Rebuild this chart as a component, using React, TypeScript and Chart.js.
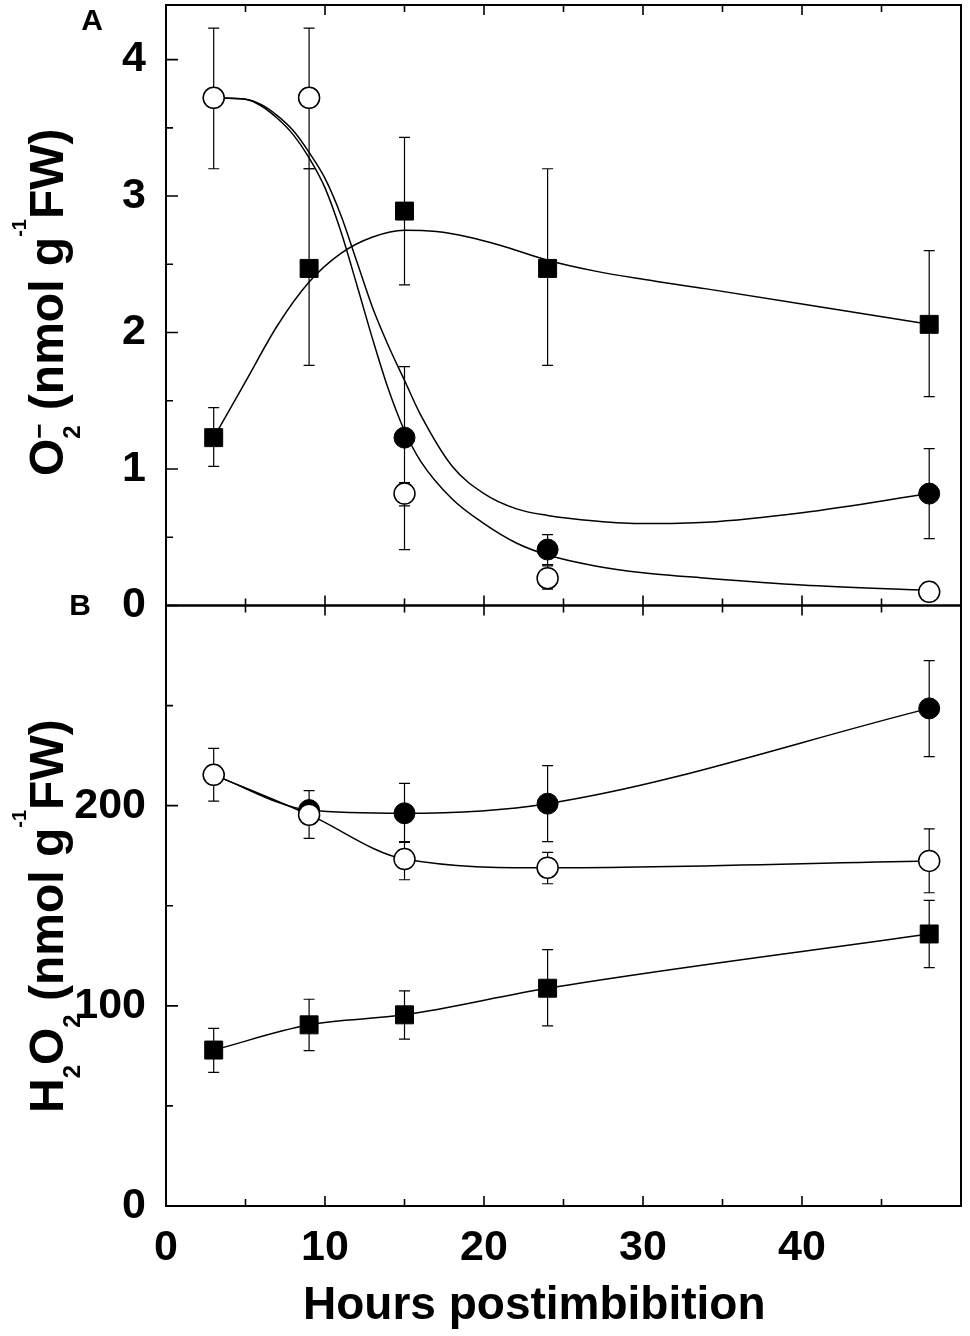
import React, { useEffect, useRef } from 'react';
import { Chart, registerables } from 'chart.js';

Chart.register(...registerables);

const hours = [3, 9, 15, 24, 48];

// panel A, O2- (nmol g-1 FW)
const o2Square = [1.23, 2.47, 2.89, 2.47, 2.06];
const o2SquareHi = [1.45, 3.2, 3.43, 3.2, 2.6];
const o2SquareLo = [1.02, 1.76, 2.35, 1.76, 1.53];
const o2Filled = [3.72, 3.72, 1.23, 0.41, 0.82];
const o2FilledHi = [3.72, 3.72, 1.75, 0.52, 1.15];
const o2FilledLo = [3.72, 3.72, 0.41, 0.3, 0.49];
const o2Open = [3.72, 3.72, 0.82, 0.2, 0.1];
const o2OpenHi = [4.23, 4.23, 0.9, 0.29, 0.12];
const o2OpenLo = [3.2, 3.2, 0.73, 0.12, 0.08];

// fitted curves of panel A
const sigmoidHours = [3, 5, 6, 7, 8, 9, 10, 11, 12, 13, 14, 15, 16, 18, 20, 22, 24, 27, 30, 34, 40, 48];
const o2OpenFit = [3.72, 3.71, 3.66, 3.57, 3.45, 3.28, 3.06, 2.74, 2.35, 1.95, 1.58, 1.28, 1.06, 0.78, 0.6, 0.46, 0.37, 0.29, 0.24, 0.2, 0.15, 0.11];
const o2FilledFit = [3.72, 3.71, 3.67, 3.59, 3.48, 3.32, 3.13, 2.86, 2.52, 2.18, 1.9, 1.65, 1.4, 1.02, 0.82, 0.71, 0.66, 0.62, 0.6, 0.61, 0.68, 0.82];
const peakHours = [3, 5, 7, 9, 11, 13, 15, 17, 19, 21, 24, 27, 30, 34, 40, 48];
const o2SquareFit = [1.23, 1.64, 2.05, 2.37, 2.58, 2.7, 2.75, 2.74, 2.7, 2.64, 2.53, 2.45, 2.39, 2.32, 2.21, 2.06];

// panel B, H2O2 (nmol g-1 FW)
const h2o2Square = [77.9, 90.5, 95.5, 108.8, 135.9];
const h2o2SquareHi = [88.7, 103.3, 107.5, 128.1, 152.7];
const h2o2SquareLo = [66.8, 77.6, 83.4, 90, 119.1];
const h2o2Filled = [215.4, 197.8, 196.2, 201, 248.6];
const h2o2FilledHi = [215.4, 197.8, 211.1, 220, 272.5];
const h2o2FilledLo = [215.4, 197.8, 181.7, 182, 224.5];
const h2o2Open = [215.4, 195.5, 173.3, 169, 172.4];
const h2o2OpenHi = [228.6, 207.5, 182, 176.7, 188.4];
const h2o2OpenLo = [202.3, 183.7, 163, 161, 156.5];

// axes
const hourTicks = [0, 10, 20, 30, 40];
const hourMinor = [5, 15, 25, 35, 45];
const o2Ticks = [0, 1, 2, 3, 4];
const o2Minor = [0.5, 1.5, 2.5, 3.5];
const h2o2Ticks = [0, 100, 200];
const h2o2Minor = [50, 150, 250];

const FONT = '"Liberation Sans", Arial, Helvetica, sans-serif';

const toXY = (xs: number[], ys: number[]) => xs.map((x, i) => ({ x, y: ys[i] }));

const errorSets = [
  { axis: 'yA', hi: o2SquareHi, lo: o2SquareLo },
  { axis: 'yA', hi: o2FilledHi, lo: o2FilledLo },
  { axis: 'yA', hi: o2OpenHi, lo: o2OpenLo },
  { axis: 'yB', hi: h2o2SquareHi, lo: h2o2SquareLo },
  { axis: 'yB', hi: h2o2FilledHi, lo: h2o2FilledLo },
  { axis: 'yB', hi: h2o2OpenHi, lo: h2o2OpenLo },
];

type Seg = { t: string; size: number; dy: number; stack?: boolean };

const titleA: Seg[] = [
  { t: 'O', size: 48, dy: 0 },
  { t: '2', size: 24, dy: 17 },
  { t: '\u2212', size: 26, dy: -15, stack: true },
  { t: ' (nmol g', size: 48, dy: 0 },
  { t: '-1', size: 20, dy: -37 },
  { t: 'FW)', size: 48, dy: 0 },
];

const titleB: Seg[] = [
  { t: 'H', size: 48, dy: 0 },
  { t: '2', size: 24, dy: 17 },
  { t: 'O', size: 48, dy: 0 },
  { t: '2', size: 24, dy: 17 },
  { t: ' (nmol g', size: 48, dy: 0 },
  { t: '-1', size: 20, dy: -37 },
  { t: 'FW)', size: 48, dy: 0 },
];

function drawRotated(ctx: CanvasRenderingContext2D, segs: Seg[], x: number, y: number) {
  ctx.save();
  ctx.translate(x, y);
  ctx.rotate(-Math.PI / 2);
  ctx.fillStyle = '#000';
  ctx.textAlign = 'left';
  ctx.textBaseline = 'alphabetic';
  let pos = 0;
  let lastStart = 0;
  for (const s of segs) {
    ctx.font = `bold ${s.size}px ${FONT}`;
    const start = s.stack ? lastStart : pos;
    ctx.fillText(s.t, start, s.dy);
    pos = Math.max(pos, start + ctx.measureText(s.t).width);
    lastStart = start;
  }
  ctx.restore();
}

const figurePlugin = {
  id: 'figure',
  beforeDatasetsDraw(chart: any) {
    const { ctx } = chart;
    const x = chart.scales.x;
    ctx.save();
    ctx.strokeStyle = '#000';
    ctx.lineWidth = 1.2;
    errorSets.forEach((e) => {
      const y = chart.scales[e.axis];
      hours.forEach((h, i) => {
        if (e.hi[i] === e.lo[i]) return;
        const px = x.getPixelForValue(h);
        const top = y.getPixelForValue(e.hi[i]);
        const bot = y.getPixelForValue(e.lo[i]);
        ctx.beginPath();
        ctx.moveTo(px, top);
        ctx.lineTo(px, bot);
        ctx.moveTo(px - 5.5, top);
        ctx.lineTo(px + 5.5, top);
        ctx.moveTo(px - 5.5, bot);
        ctx.lineTo(px + 5.5, bot);
        ctx.stroke();
      });
    });
    ctx.restore();
  },
  afterDraw(chart: any) {
    const { ctx, chartArea } = chart;
    const x = chart.scales.x;
    const panels = [
      { y: chart.scales.yA, major: o2Ticks, minor: o2Minor },
      { y: chart.scales.yB, major: h2o2Ticks, minor: h2o2Minor },
    ];
    ctx.save();
    ctx.strokeStyle = '#000';
    panels.forEach((p) => {
      const { top, bottom } = p.y;
      ctx.lineWidth = 1.6;
      ctx.beginPath();
      const tick = (v: number, len: number) => {
        const py = p.y.getPixelForValue(v);
        ctx.moveTo(chartArea.left, py);
        ctx.lineTo(chartArea.left + len, py);
      };
      p.major.forEach((v) => tick(v, 12));
      p.minor.forEach((v) => tick(v, 7));
      const xtick = (v: number, len: number) => {
        const px = x.getPixelForValue(v);
        ctx.moveTo(px, top);
        ctx.lineTo(px, top + len);
        ctx.moveTo(px, bottom);
        ctx.lineTo(px, bottom - len);
      };
      hourTicks.forEach((v) => xtick(v, 10));
      hourMinor.forEach((v) => xtick(v, 7));
      ctx.stroke();
      ctx.lineWidth = 2;
      ctx.strokeRect(chartArea.left, top, chartArea.right - chartArea.left, bottom - top);
    });
    ctx.restore();

    drawRotated(ctx, titleA, 63, 476);
    drawRotated(ctx, titleB, 63, 1113);

    ctx.save();
    ctx.fillStyle = '#000';
    ctx.textAlign = 'center';
    ctx.textBaseline = 'middle';
    ctx.font = `bold 30px ${FONT}`;
    ctx.fillText('A', 92, 22);
    ctx.fillText('B', 80, 607);
    ctx.textAlign = 'left';
    ctx.textBaseline = 'alphabetic';
    ctx.font = `bold 46px ${FONT}`;
    ctx.fillText('Hours postimbibition', 303, 1319);
    ctx.restore();
  },
};

const squareStyle = {
  pointStyle: 'rect',
  pointRadius: 12.7,
  pointBackgroundColor: '#000',
  pointBorderColor: '#000',
  pointBorderWidth: 1,
};
const filledStyle = {
  pointStyle: 'circle',
  pointRadius: 10.5,
  pointBackgroundColor: '#000',
  pointBorderColor: '#000',
  pointBorderWidth: 1,
};
const openStyle = {
  pointStyle: 'circle',
  pointRadius: 10.5,
  pointBackgroundColor: '#fff',
  pointBorderColor: '#000',
  pointBorderWidth: 1.5,
};
const fitStyle = {
  pointRadius: 0,
  borderColor: '#000',
  borderWidth: 1.5,
  cubicInterpolationMode: 'monotone',
  order: 10,
};

// no label padding, so the plot frame lands where the figure has it
const fitY = (s: any) => {
  s.width = 166;
  s.paddingTop = 0;
  s.paddingBottom = 0;
};

const App: React.FC = () => {
  const chartRef = useRef<HTMLCanvasElement | null>(null);

  useEffect(() => {
    document.body.style.margin = '0';
    const ctx = chartRef.current?.getContext('2d');
    if (!ctx) return;

    const tickFont = { family: FONT, size: 43, weight: 'bold' as const };

    const chart = new Chart(ctx, {
      type: 'line',
      data: {
        datasets: [
          // panel A points
          { ...openStyle, data: toXY(hours, o2Open), yAxisID: 'yA', showLine: false, order: 1 },
          { ...filledStyle, data: toXY(hours, o2Filled), yAxisID: 'yA', showLine: false, order: 2 },
          { ...squareStyle, data: toXY(hours, o2Square), yAxisID: 'yA', showLine: false, order: 3 },
          // panel A fitted curves
          { ...fitStyle, data: toXY(sigmoidHours, o2OpenFit), yAxisID: 'yA' },
          { ...fitStyle, data: toXY(sigmoidHours, o2FilledFit), yAxisID: 'yA' },
          { ...fitStyle, data: toXY(peakHours, o2SquareFit), yAxisID: 'yA' },
          // panel B
          { ...openStyle, data: toXY(hours, h2o2Open), yAxisID: 'yB', borderColor: '#000', borderWidth: 1.5, cubicInterpolationMode: 'monotone', order: 4 },
          { ...filledStyle, data: toXY(hours, h2o2Filled), yAxisID: 'yB', borderColor: '#000', borderWidth: 1.5, cubicInterpolationMode: 'monotone', order: 5 },
          { ...squareStyle, data: toXY(hours, h2o2Square), yAxisID: 'yB', borderColor: '#000', borderWidth: 1.5, cubicInterpolationMode: 'monotone', order: 6 },
        ] as any,
      },
      options: {
        animation: false,
        responsive: false,
        events: [],
        layout: { autoPadding: false, padding: { top: 5, right: 9, left: 0, bottom: 0 } },
        plugins: { legend: { display: false }, tooltip: { enabled: false } },
        scales: {
          x: {
            type: 'linear',
            position: 'bottom',
            min: 0,
            max: 50,
            grid: { display: false },
            border: { display: false },
            afterBuildTicks: (s: any) => { s.ticks = hourTicks.map((value) => ({ value })); },
            afterFit: (s: any) => {
              s.height = 130;
              s.paddingLeft = 0;
              s.paddingRight = 0;
            },
            ticks: { font: tickFont, color: '#000', padding: 8, maxRotation: 0, autoSkip: false },
          },
          // stacked axes are laid out bottom first
          yB: {
            type: 'linear',
            position: 'left',
            stack: 'panels',
            stackWeight: 1,
            min: 0,
            max: 300,
            grid: { display: false },
            border: { display: false },
            afterBuildTicks: (s: any) => { s.ticks = h2o2Ticks.map((value) => ({ value })); },
            afterFit: fitY,
            ticks: { font: tickFont, color: '#000', padding: 12 },
          },
          yA: {
            type: 'linear',
            position: 'left',
            stack: 'panels',
            stackWeight: 1,
            min: 0,
            max: 4.4,
            grid: { display: false },
            border: { display: false },
            afterBuildTicks: (s: any) => { s.ticks = o2Ticks.map((value) => ({ value })); },
            afterFit: fitY,
            ticks: { font: tickFont, color: '#000', padding: 12 },
          },
        },
      } as any,
      plugins: [figurePlugin],
    });

    return () => {
      chart.destroy();
    };
  }, []);

  return (
    <div style={{ width: 970, height: 1336, background: '#fff' }}>
      <canvas ref={chartRef} width={970} height={1336}></canvas>
    </div>
  );
};

export default App;
